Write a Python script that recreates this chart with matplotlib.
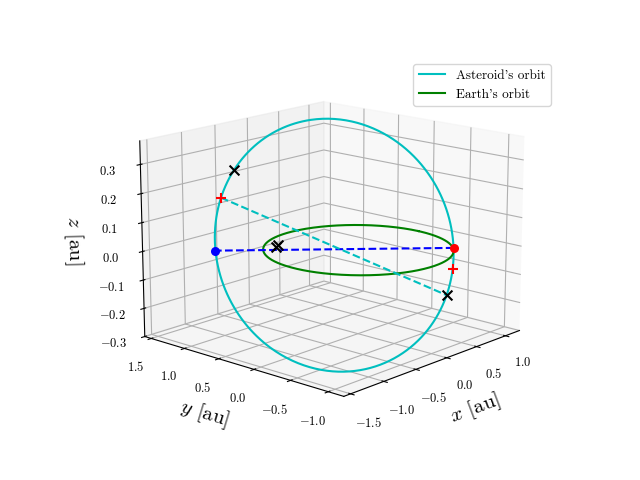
import numpy as np
import matplotlib
matplotlib.use("Agg")
import matplotlib.pyplot as plt

plt.rcParams["font.family"] = "cmr10"
plt.rcParams["mathtext.fontset"] = "cm"
plt.rcParams["axes.formatter.use_mathtext"] = True

# orbital elements of the asteroid
a_semi = 1.26
ecc = 0.21
omega = np.radians(-20.0)
incl = np.radians(16.0)
node_dir = np.array([0.707, -0.707, 0.0])
perp_dir = np.array([0.707, 0.707, 0.0])

# marked points (true anomaly from node, deg)
node_angles = [0.0, 180.0]
plus_angles = [-12.0, 160.0]
cross_angles = [148.0, 333.0]
cross_pts_x = [-0.62, -0.68]
cross_pts_y = [0.58, 0.55]
cross_pts_z = [0.02, 0.02]


def orbit_point(theta):
    theta = np.atleast_1d(theta)
    v = np.cos(incl) * perp_dir + np.array([0, 0, np.sin(incl)])
    p = a_semi * (1 - ecc ** 2)
    r = p / (1 + ecc * np.cos(theta - omega))
    return r[:, None] * (np.cos(theta)[:, None] * node_dir + np.sin(theta)[:, None] * v)


th = np.linspace(0, 2 * np.pi, 400)
ast = orbit_point(th)

fig = plt.figure(figsize=(6.4, 4.8))
ax = fig.add_subplot(projection="3d")
ax.plot(ast[:, 0], ast[:, 1], ast[:, 2], color="c", label="Asteroid's orbit")
ax.plot(np.cos(th), np.sin(th), 0 * th, color="g", label="Earth's orbit")

nodes = orbit_point(np.radians(np.array(node_angles)))
ax.plot(nodes[:, 0], nodes[:, 1], nodes[:, 2], "b--")
ax.scatter(*nodes[0], color="r", s=30, depthshade=False)
ax.scatter(*nodes[1], color="b", s=30, depthshade=False)

pls = orbit_point(np.radians(np.array(plus_angles)))
crs = orbit_point(np.radians(np.array(cross_angles)))
ax.plot([pls[1, 0], crs[1, 0]], [pls[1, 1], crs[1, 1]], [pls[1, 2], crs[1, 2]], "c--")
ax.scatter(pls[:, 0], pls[:, 1], pls[:, 2], color="r", marker="+", s=60, depthshade=False)
ax.scatter(crs[:, 0], crs[:, 1], crs[:, 2], color="k", marker="x", s=50, depthshade=False)
ax.scatter(cross_pts_x, cross_pts_y, cross_pts_z, color="k", marker="x", s=50, depthshade=False)

ax.set_xlim(-1.6, 1.25)
ax.set_ylim(-1.2, 1.6)
ax.set_zlim(-0.3, 0.38)
ax.set_xlabel("$x$ [au]", fontsize=15)
ax.set_ylabel("$y$ [au]", fontsize=15)
ax.set_zlabel("$z$ [au]", fontsize=15)
ax.set_xticks([-1.5, -1.0, -0.5, 0.0, 0.5, 1.0])
ax.set_yticks([-1.0, -0.5, 0.0, 0.5, 1.0, 1.5])
ax.set_zticks([-0.3, -0.2, -0.1, 0.0, 0.1, 0.2, 0.3])
ax.tick_params(labelsize=9)
ax.view_init(elev=15, azim=-138)
ax.set_box_aspect(None, zoom=1.13)
ax.legend(loc="upper right", fontsize=9.5, bbox_to_anchor=(1.12, 1.0))
fig.savefig("out.png", dpi=100)
